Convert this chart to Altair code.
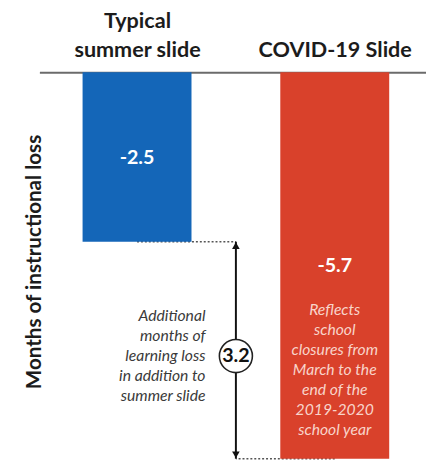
import json
import altair as alt
import pandas as pd

# ---- data ----
CATEGORIES = ["Typical summer slide", "COVID-19 Slide"]
HEADERS = [["Typical", "summer slide"], ["", "COVID-19 Slide"]]
POSITIONS = [0, 1]
VALUES = [-2.5, -5.7]
VALUE_LABELS = ["-2.5", "-5.7"]
BAR_COLORS = ["#1466b8", "#d9412b"]
GAP_LABEL = "3.2"
GAP_NOTE = ["Additional", "months of", "learning loss", "in addition to", "summer slide"]
COVID_NOTE = ["Reflects", "school", "closures from", "March to the", "end of the",
              "2019-2020", "school year"]
Y_TITLE = "Months of instructional loss"

FONT = "Lato"

bars_df = pd.DataFrame({"category": CATEGORIES, "pos": POSITIONS, "value": VALUES,
                        "label": VALUE_LABELS})
arrow_x = sum(POSITIONS) / len(POSITIONS)
gap_mid = (VALUES[0] + VALUES[1]) / 2
dots_df = pd.DataFrame({"pos": POSITIONS, "pos2": [arrow_x, arrow_x], "value": VALUES})
arrow_df = pd.DataFrame({"pos": [arrow_x], "value": [VALUES[0]], "value2": [VALUES[1]],
                         "mid": [gap_mid], "label": [GAP_LABEL]})
gap_note_df = pd.DataFrame({"pos": [arrow_x], "value": [gap_mid], "note": [GAP_NOTE]})
covid_note_df = pd.DataFrame({"pos": [POSITIONS[1]], "value": [VALUES[1] / 2],
                              "note": [COVID_NOTE]})

xscale = alt.Scale(domain=[-0.4938, 1.4615], nice=False, zero=False, padding=0)
yscale = alt.Scale(domain=[-5.744, 0], nice=False, zero=False)

label_expr = f"datum.value == 0 ? {json.dumps(HEADERS[0])} : {json.dumps(HEADERS[1])}"
X_AXIS = alt.Axis(orient="top", values=POSITIONS, labelExpr=label_expr, title=None,
                  ticks=False, grid=False, domainColor="#6b6b6b", domainWidth=2,
                  labelFont=FONT, labelFontSize=22, labelFontWeight="bold",
                  labelColor="#1c1c1c", labelPadding=40, labelLineHeight=29,
                  labelBaseline="bottom", labelFlush=False, labelOverlap=False,
                  labelBound=False)
Y_AXIS = alt.Axis(orient="left", title=Y_TITLE, labels=False, ticks=False, domain=False,
                  grid=False, titleFont=FONT, titleFontSize=21, titleFontWeight="bold",
                  titleColor="#1c1c1c", titleX=-5, titleY=193, titleAngle=270,
                  titleBaseline="middle", titleAlign="center")


def X(field):
    return alt.X(field, type="quantitative", scale=xscale, axis=X_AXIS)


def Y(field):
    return alt.Y(field, type="quantitative", scale=yscale, axis=Y_AXIS)


dots = alt.Chart(dots_df).mark_rule(strokeDash=[2, 2], strokeWidth=1.5, color="#555555").encode(
    x=X("pos"), x2="pos2", y=Y("value"))

bars = alt.Chart(bars_df).mark_bar(size=111, orient="vertical").encode(
    x=X("pos"), y=Y("value"), y2=alt.datum(0),
    color=alt.Color("category:N", scale=alt.Scale(domain=CATEGORIES, range=BAR_COLORS),
                    legend=None))

value_text = alt.Chart(bars_df).transform_calculate(mid="datum.value / 2").mark_text(
    font=FONT, fontSize=20, fontWeight="bold", color="white", baseline="middle", dy=1
).encode(x=X("pos"), y=Y("mid"), text="label:N")

covid_note = alt.Chart(covid_note_df).mark_text(
    font=FONT, fontSize=16, fontStyle="italic", color="#f8d4ca", baseline="top",
    lineHeight=20.3, dy=38, align="center"
).encode(x=X("pos"), y=Y("value"), text="note")

arrow = alt.Chart(arrow_df).mark_rule(strokeWidth=2, color="#111111").encode(
    x=X("pos"), y=Y("value"), y2="value2")

head_top = alt.Chart(arrow_df).mark_point(shape="triangle-up", filled=True, size=60,
                                         color="#111111", opacity=1).encode(
    x=X("pos"), y=Y("value"), yOffset=alt.value(4))
head_bot = alt.Chart(arrow_df).mark_point(shape="triangle-down", filled=True, size=60,
                                         color="#111111", opacity=1).encode(
    x=X("pos"), y=Y("value2"), yOffset=alt.value(-4))

circle = alt.Chart(arrow_df).mark_point(shape="circle", filled=True, size=1134,
                                       fill="white", stroke="#222222", strokeWidth=1.6,
                                       opacity=1).encode(
    x=X("pos"), y=Y("mid"), yOffset=alt.value(6))

circle_text = alt.Chart(arrow_df).mark_text(
    font=FONT, fontSize=20, fontWeight="bold", color="#111111", baseline="middle", dy=6
).encode(x=X("pos"), y=Y("mid"), text="label:N")

gap_note = alt.Chart(gap_note_df).mark_text(
    font=FONT, fontSize=16, fontStyle="italic", color="#3a3a3a", baseline="middle",
    lineHeight=20.5, align="right", dx=-31, dy=-35
).encode(x=X("pos"), y=Y("value"), text="note")

chart = alt.layer(dots, bars, value_text, covid_note, arrow, head_top, head_bot,
                  circle, circle_text, gap_note).properties(
    width=394, height=397,
    padding={"left": 32, "top": 61, "right": 0, "bottom": 0},
    autosize=alt.AutoSizeParams(type="none"),
    background="white",
).configure_view(stroke=None)

chart.save("out.html", embed_options={"renderer": "svg", "actions": False})
